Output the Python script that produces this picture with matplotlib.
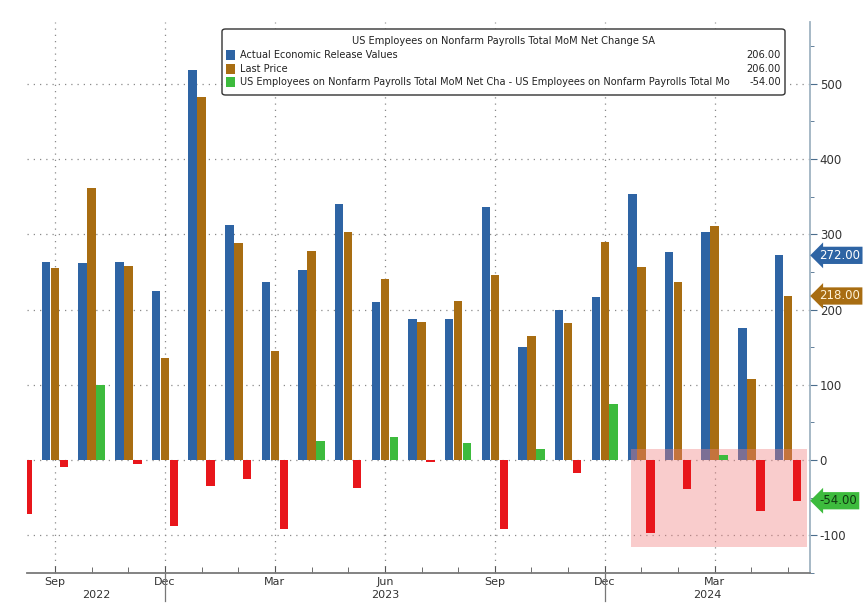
import matplotlib.pyplot as plt
import matplotlib.transforms as mtransforms
from matplotlib.patches import Rectangle, FancyBboxPatch
import numpy as np

# DATA (Aug 2022 - May 2024), values in thousands
months = ['Aug', 'Sep', 'Oct', 'Nov', 'Dec', 'Jan', 'Feb', 'Mar', 'Apr', 'May', 'Jun', 'Jul',
          'Aug', 'Sep', 'Oct', 'Nov', 'Dec', 'Jan', 'Feb', 'Mar', 'Apr', 'May']
years = [2022, 2022, 2022, 2022, 2022, 2023, 2023, 2023, 2023, 2023, 2023, 2023,
         2023, 2023, 2023, 2023, 2023, 2024, 2024, 2024, 2024, 2024]
actual = [np.nan, 263, 262, 263, 224, 518, 312, 237, 253, 340, 210, 187,
          187, 336, 150, 199, 216, 354, 276, 303, 175, 272]
last_price = [np.nan, 255, 362, 258, 136, 483, 288, 145, 278, 303, 240, 184,
              211, 246, 165, 182, 290, 256, 237, 311, 108, 218]
diff = [-72, -9, 100, -5, -87, -35, -25, -91, 25, -37, 31, -3,
        23, -91, 15, -17, 74, -97, -39, 7, -67, -54]

legend_title = 'US Employees on Nonfarm Payrolls Total MoM Net Change SA'
legend_labels = ['Actual Economic Release Values', 'Last Price',
                 'US Employees on Nonfarm Payrolls Total MoM Net Cha - US Employees on Nonfarm Payrolls Total Mo']
legend_values = ['206.00', '206.00', '-54.00']

BLUE = '#2e64a4'
BROWN = '#a86d12'
GREEN = '#3dbb3d'
RED = '#e8161b'

plt.rcParams['font.family'] = ['DejaVu Sans']

fig = plt.figure(figsize=(8.66, 6.14), dpi=100)
ax = fig.add_axes([27/866, 1-573/614, (810-27)/866, (573-22)/614])

x = np.arange(len(months))
w = 0.232
off = 0.245
diff_colors = [GREEN if v >= 0 else RED for v in diff]
ax.bar(x - off, actual, width=w, color=BLUE, zorder=3)
ax.bar(x, last_price, width=w, color=BROWN, zorder=3)
ax.bar(x + off, diff, width=w, color=diff_colors, zorder=5)

# highlight box
ax.add_patch(Rectangle((16.72, -116), 21.52-16.72, 131, facecolor='#f08080', alpha=0.4,
                       edgecolor='none', zorder=4))

ax.set_xlim(0.236, 21.6)
ax.set_ylim(-150, 582)

# grids
for v in range(-100, 501, 100):
    ax.axhline(v, color='#8a8a8a', lw=0.9, ls=(0, (1, 4)), zorder=1)
quarters = [i for i, m in enumerate(months) if m in ('Mar', 'Jun', 'Sep', 'Dec')]
for q in quarters:
    ax.axvline(q, color='#8a8a8a', lw=0.9, ls=(0, (1, 4)), zorder=1)

# spines
for s in ['top', 'left']:
    ax.spines[s].set_visible(False)
ax.spines['bottom'].set_color('#7a7a7a')
ax.spines['bottom'].set_linewidth(1.3)
ax.spines['right'].set_color('#9fb3c2')
ax.spines['right'].set_linewidth(1.3)

# y axis on the right
ax.yaxis.tick_right()
ax.set_yticks(range(-100, 501, 100))
ax.set_yticklabels([str(v) for v in range(-100, 501, 100)])
ax.set_yticks(range(-150, 581, 50), minor=True)
ax.tick_params(axis='y', which='major', direction='out', length=5, color='#4a6d8c',
               labelsize=8.5, labelcolor='#333333', pad=2)
ax.tick_params(axis='y', which='minor', direction='out', length=3, color='#4a6d8c')

# x axis
ax.set_xticks(quarters)
ax.set_xticklabels([months[q] for q in quarters])
ax.set_xticks(x[1:], minor=True)
ax.tick_params(axis='x', which='major', direction='in', length=5, color='#555555',
               labelsize=8, labelcolor='#333333', pad=3)
ax.tick_params(axis='x', which='minor', direction='in', length=4, color='#555555')

# year labels and separators
trans = mtransforms.blended_transform_factory(ax.transData, ax.transAxes)
xmin, xmax = ax.get_xlim()
seps = [i for i in range(1, len(years)) if years[i] != years[i-1]]
for s in seps:
    ax.plot([s - 1, s - 1], [0, -0.05], color='#777777', lw=0.9, transform=trans, clip_on=False)
bounds = [xmin] + [s - 1 for s in seps] + [xmax]
year_names = sorted(set(years))
for i, yname in enumerate(year_names):
    ax.text((bounds[i] + bounds[i+1]) / 2, -0.04, str(yname), transform=trans,
            ha='center', va='center', fontsize=8, color='#333333')

# value tags on the right axis
tags = [(actual[-1], BLUE, 'white'), (last_price[-1], BROWN, '#fff3d6'), (diff[-1], GREEN, '#103810')]
ytrans = mtransforms.blended_transform_factory(ax.transAxes, ax.transData)
for val, col, tcol in tags:
    ax.text(1.012, val, '%.2f' % val, transform=ytrans, ha='left', va='center',
            fontsize=8.5, color=tcol, zorder=6,
            bbox=dict(boxstyle='larrow,pad=0.18', facecolor=col, edgecolor='none'))

# legend box
fig.patches.append(FancyBboxPatch((222/866, 1-95/614), (785-222)/866, (95-29)/614,
                                  boxstyle='round,pad=0,rounding_size=0.004',
                                  transform=fig.transFigure, facecolor='white',
                                  edgecolor='#333333', lw=1.0, zorder=10))
fig.text(503/866, 1-41/614, legend_title, ha='center', va='center', fontsize=7.1,
         color='#222222', zorder=11)
for i, (lab, val, col) in enumerate(zip(legend_labels, legend_values, [BLUE, BROWN, GREEN])):
    yy = 1 - (55 + i * 13.5) / 614
    fig.patches.append(Rectangle((226/866, yy - 5/614), 9/866, 10/614, transform=fig.transFigure,
                                 facecolor=col, edgecolor='none', zorder=11))
    fig.text(240/866, yy, lab, ha='left', va='center', fontsize=7.0, color='#222222', zorder=11)
    fig.text(781/866, yy, val, ha='right', va='center', fontsize=7.1, color='#222222', zorder=11)

fig.savefig('out.png', dpi=100)
